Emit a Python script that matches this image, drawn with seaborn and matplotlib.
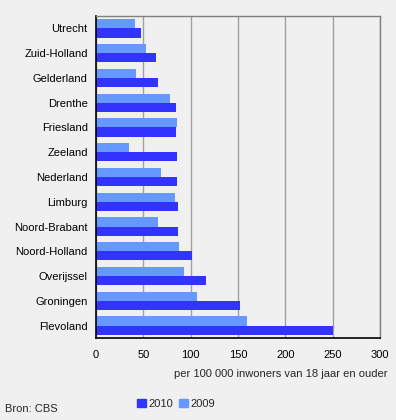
import matplotlib
matplotlib.use("Agg")
import matplotlib.pyplot as plt
from matplotlib.patches import Patch
import seaborn as sns
import pandas as pd

# data
provinces = ["Utrecht", "Zuid-Holland", "Gelderland", "Drenthe", "Friesland",
             "Zeeland", "Nederland", "Limburg", "Noord-Brabant", "Noord-Holland",
             "Overijssel", "Groningen", "Flevoland"]
values_2010 = [48, 63, 65, 84, 84, 86, 86, 87, 87, 101, 116, 152, 250]
values_2009 = [41, 53, 42, 78, 86, 35, 69, 83, 65, 88, 93, 107, 160]
x_ticks = [0, 50, 100, 150, 200, 250, 300]

df = pd.DataFrame({
    "provincie": provinces * 2,
    "waarde": values_2009 + values_2010,
    "jaar": ["2009"] * len(provinces) + ["2010"] * len(provinces),
})

bg = "#f0f0f0"
colors = {"2010": "#3333ff", "2009": "#6699ff"}

sns.set_theme(style="white")
plt.rcParams["font.family"] = ["Liberation Sans", "DejaVu Sans"]
fs = 8

fig = plt.figure(figsize=(3.96, 4.2), dpi=100, facecolor=bg)
ax = fig.add_axes([96 / 396, 1 - 338 / 420, 284 / 396, 322 / 420])
ax.set_facecolor(bg)

sns.barplot(data=df, y="provincie", x="waarde", hue="jaar",
            hue_order=["2009", "2010"], order=provinces, palette=colors,
            orient="h", width=0.74, saturation=1, linewidth=0,
            legend=False, ax=ax)

ax.set_xlim(0, 300)
ax.set_xticks(x_ticks)
ax.set_xticklabels([str(t) for t in x_ticks], fontsize=fs, color="black")
ax.tick_params(axis="x", direction="out", length=4, width=1, color="black", pad=5)
ax.tick_params(axis="y", length=0, pad=6, labelsize=fs, labelcolor="black")
ax.set_ylabel("")
ax.set_xlabel("")
ax.xaxis.grid(True, color="#a0a0a0", linewidth=1)
ax.set_axisbelow(True)

for side in ["top", "right"]:
    ax.spines[side].set_color("#808080")
    ax.spines[side].set_linewidth(1)
for side in ["left", "bottom"]:
    ax.spines[side].set_color("black")
    ax.spines[side].set_linewidth(1.2)

fig.text(388 / 396, 1 - 374 / 420, "per 100 000 inwoners van 18 jaar en ouder",
         ha="right", va="center", fontsize=fs)
fig.text(5 / 396, 1 - 409 / 420, "Bron: CBS", ha="left", va="center", fontsize=fs)

handles = [Patch(color=colors["2010"], label="2010"),
           Patch(color=colors["2009"], label="2009")]
fig.legend(handles=handles, loc="center", bbox_to_anchor=(176 / 396, 1 - 404 / 420),
           ncol=2, frameon=False, fontsize=fs, handlelength=0.8, handleheight=0.8,
           handletextpad=0.2, columnspacing=0.5, borderaxespad=0)

fig.savefig("out.png", dpi=100, facecolor=bg)
